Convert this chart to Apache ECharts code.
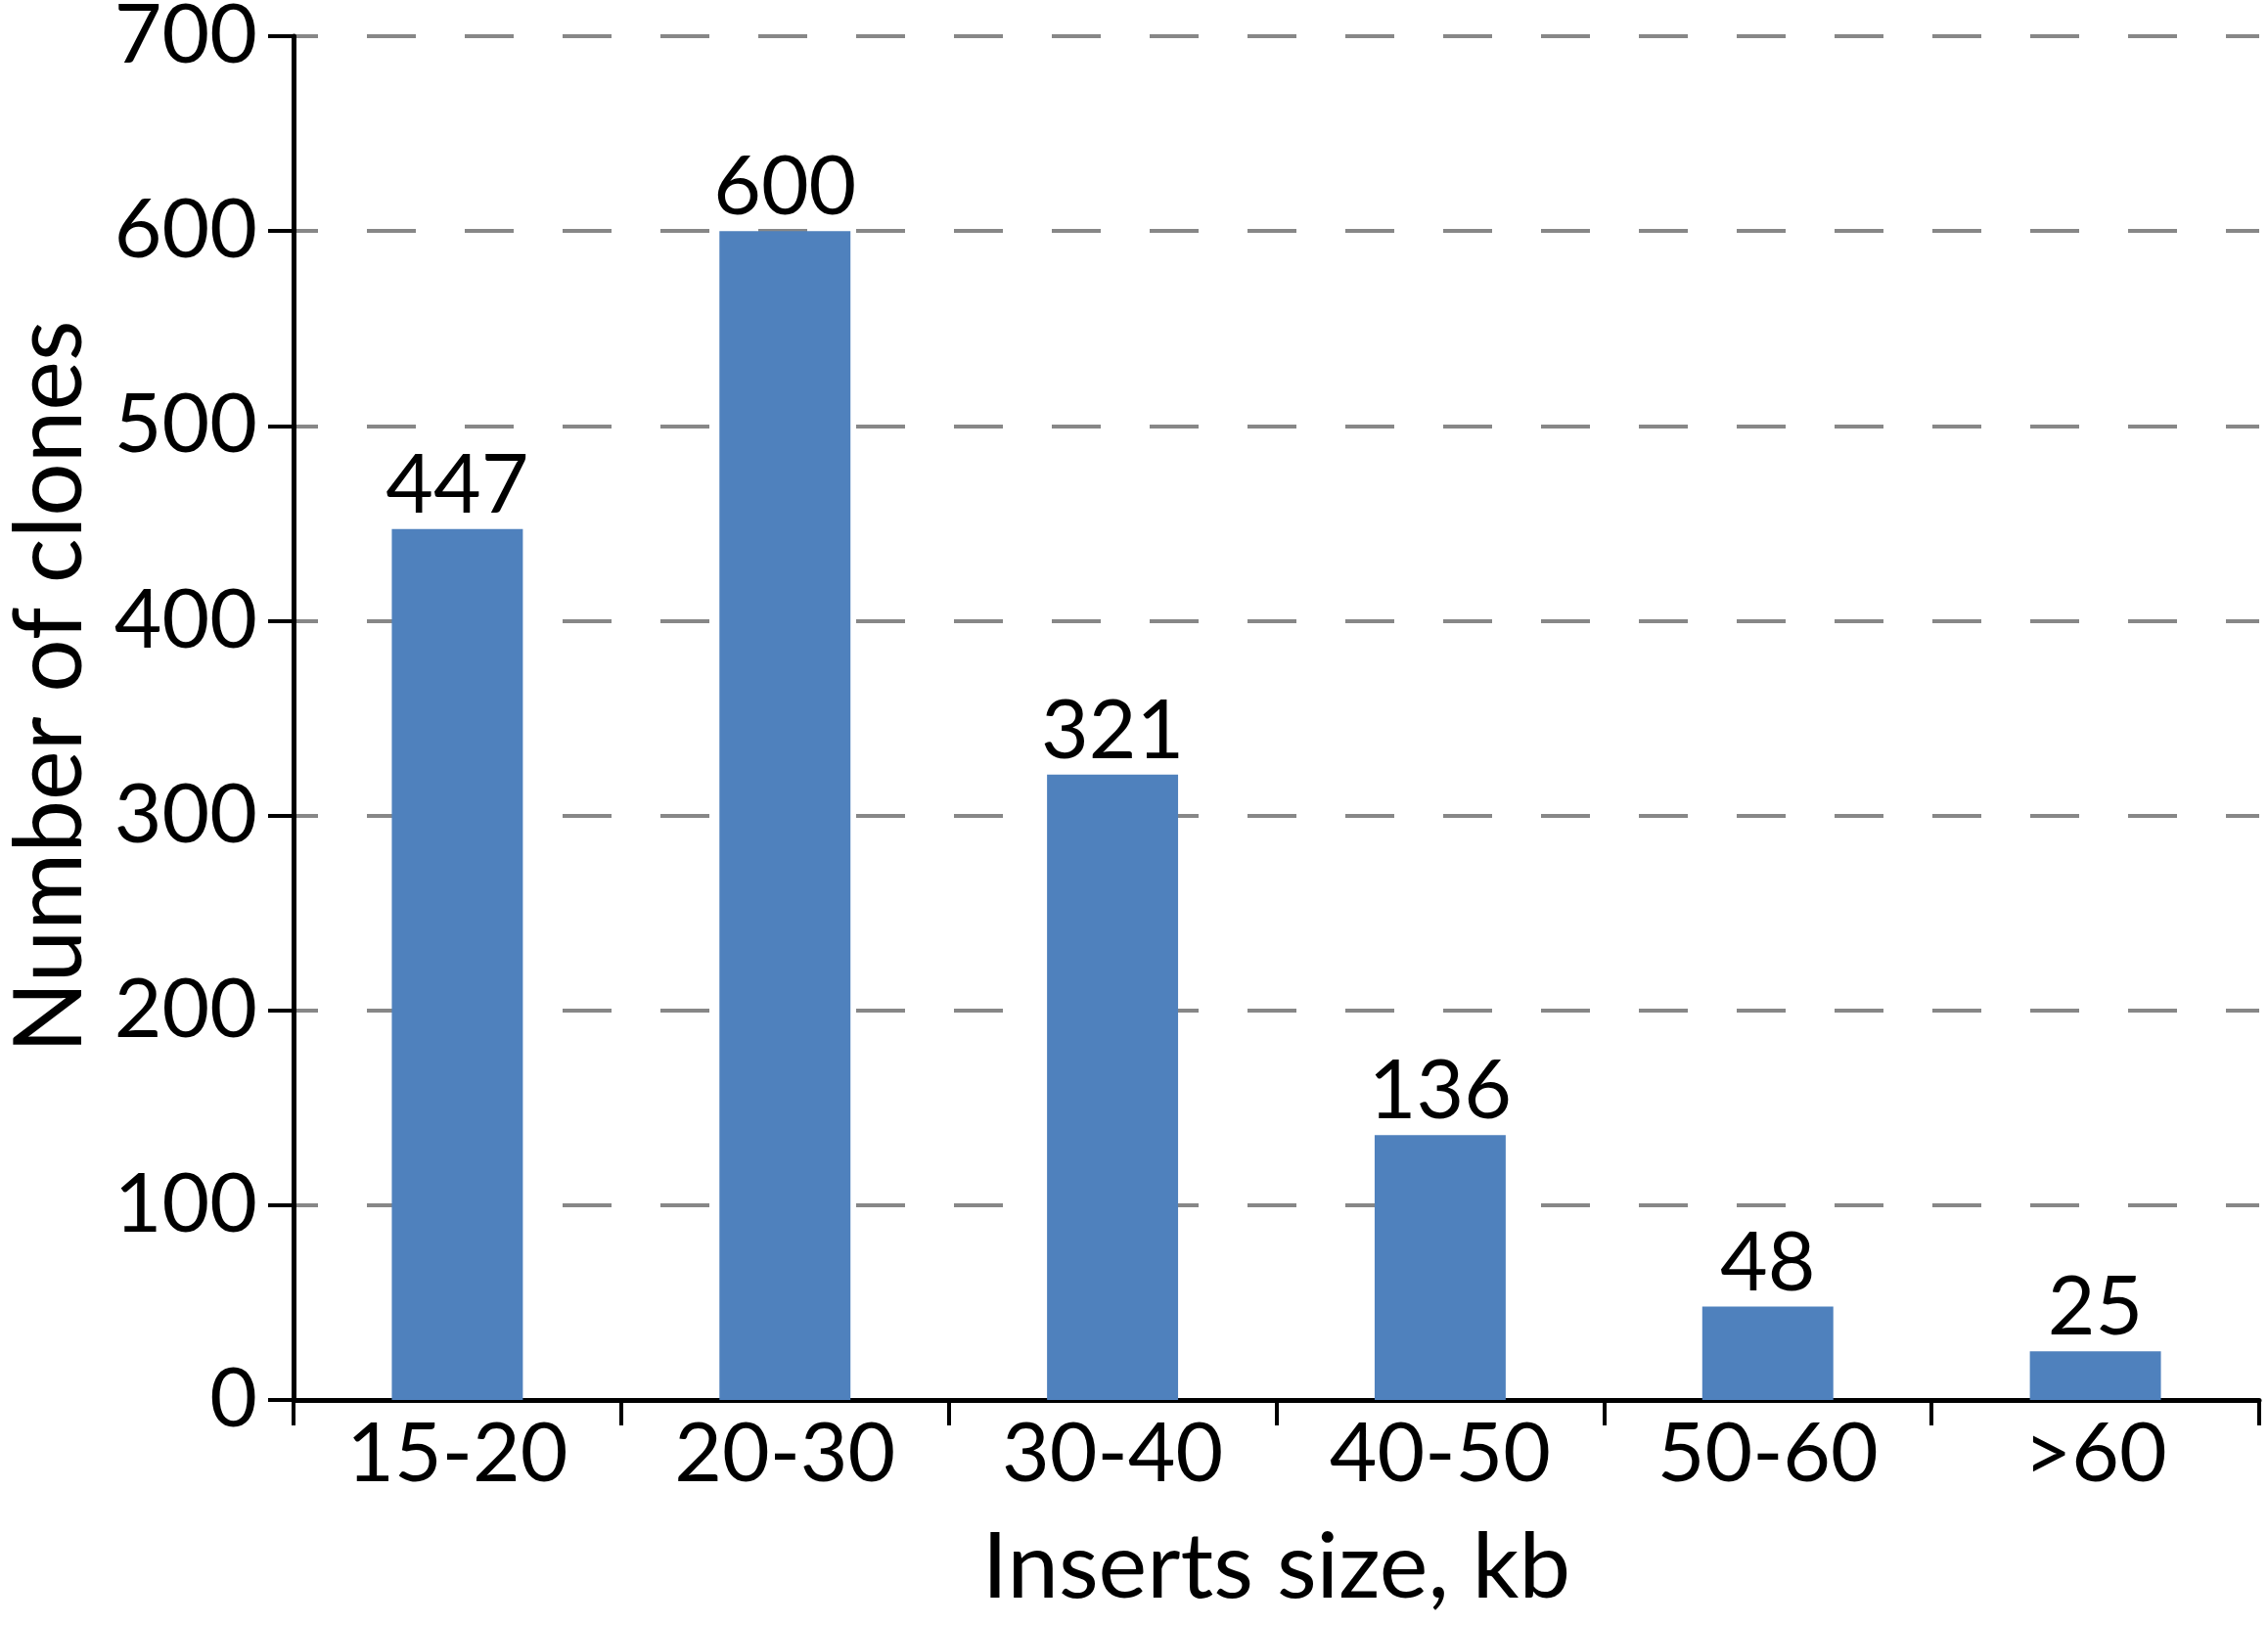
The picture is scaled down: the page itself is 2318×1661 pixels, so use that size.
<!DOCTYPE html>
<html>
<head>
<meta charset="utf-8">
<script src="https://cdn.jsdelivr.net/npm/echarts@6/dist/echarts.min.js"></script>
<style>
html,body{margin:0;padding:0;background:#fff;}
#chart{width:2318px;height:1661px;}
</style>
</head>
<body>
<div id="chart"></div>
<script>
const categories = ['15-20', '20-30', '30-40', '40-50', '50-60', '>60'];
const clones = [447, 600, 321, 136, 48, 25];
const yTicks = [0, 100, 200, 300, 400, 500, 600, 700];

const FONT = 'Lato';
const chart = echarts.init(document.getElementById('chart'), null, {renderer: 'canvas'});
chart.setOption({
  animation: false,
  backgroundColor: '#ffffff',
  grid: {left: 300, right: 9, top: 37, bottom: 230, containLabel: false, outerBoundsMode: 'none'},
  xAxis: {
    type: 'category',
    data: categories,
    name: 'Inserts size, kb',
    nameLocation: 'middle',
    nameGap: 125,
    nameTextStyle: {fontFamily: FONT, fontSize: 94, color: '#000'},
    axisLine: {lineStyle: {color: '#000', width: 5}},
    axisTick: {show: true, length: 26, lineStyle: {color: '#000', width: 4}, alignWithLabel: false},
    axisLabel: {fontFamily: FONT, fontSize: 84, color: '#000', margin: 14},
    splitLine: {show: false}
  },
  yAxis: {
    type: 'value',
    min: yTicks[0],
    max: yTicks[yTicks.length - 1],
    interval: 100,
    name: 'Number of clones',
    nameLocation: 'middle',
    nameGap: 200,
    nameRotate: 90,
    nameTextStyle: {fontFamily: FONT, fontSize: 96, color: '#000', padding: [0, 0, 0, 64]},
    axisLine: {show: true, lineStyle: {color: '#000', width: 5}},
    axisTick: {show: true, length: 26, lineStyle: {color: '#000', width: 4}},
    axisLabel: {fontFamily: FONT, fontSize: 84, color: '#000', margin: 37},
    splitLine: {show: true, lineStyle: {color: '#878787', width: 4, type: [50, 50], dashOffset: 25}}
  },
  series: [{
    type: 'bar',
    data: clones,
    barWidth: '40%',
    itemStyle: {color: '#4F81BD'},
    label: {show: true, position: 'top', distance: 2, fontFamily: FONT, fontSize: 84, color: '#000'}
  }]
});
</script>
</body>
</html>
